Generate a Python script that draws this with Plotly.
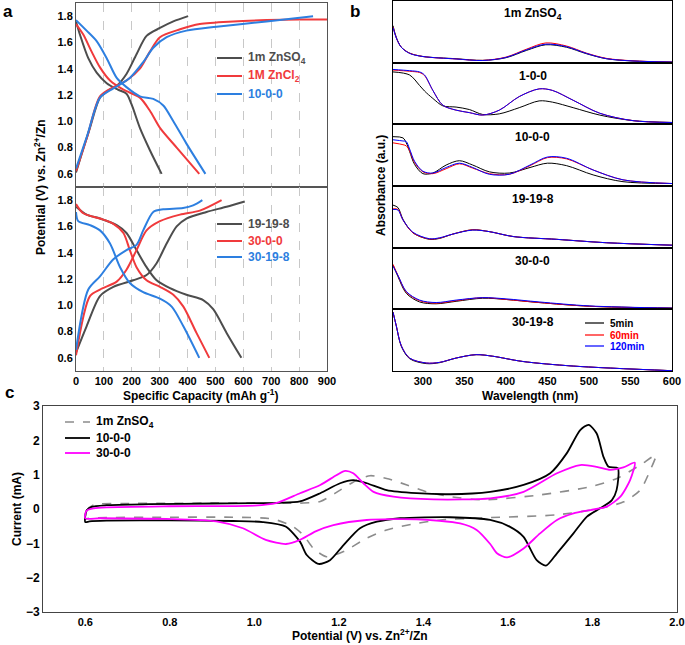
import plotly.graph_objects as go

W, H = 685, 645
FONT = "Liberation Sans, Arial, sans-serif"

# ---------------- Panel a (galvanostatic charge/discharge) ----------------
a1_names = ["1m ZnSO<sub>4</sub>", "1M ZnCl<sub>2</sub>", "10-0-0"]
a2_names = ["19-19-8", "30-0-0", "30-19-8"]
a_colors = ["#4d4d4d", "#f03a3c", "#2d7fe0"]

zso4_chg_x = [0, 20, 50, 86, 120, 146, 181, 217, 253, 301, 349, 402]
zso4_chg_y = [0.61, 0.75, 0.95, 1.18, 1.24, 1.27, 1.36, 1.51, 1.65, 1.71, 1.76, 1.80]
zso4_dis_x = [0, 14, 44, 74, 110, 151, 181, 199, 229, 265, 307]
zso4_dis_y = [1.76, 1.66, 1.48, 1.37, 1.29, 1.24, 1.21, 1.13, 0.95, 0.78, 0.60]

zncl2_chg_x = [0, 40, 86, 134, 181, 229, 265, 301, 373, 444, 564, 683, 800, 900]
zncl2_chg_y = [0.62, 0.88, 1.19, 1.26, 1.31, 1.40, 1.53, 1.64, 1.70, 1.74, 1.76, 1.77, 1.775, 1.775]
zncl2_dis_x = [0, 26, 56, 86, 122, 170, 229, 265, 301, 361, 442]
zncl2_dis_y = [1.74, 1.66, 1.53, 1.41, 1.31, 1.24, 1.18, 1.08, 0.95, 0.80, 0.60]

e1000_chg_x = [0, 40, 86, 134, 193, 241, 277, 325, 396, 504, 683, 850]
e1000_chg_y = [0.64, 0.89, 1.18, 1.25, 1.33, 1.45, 1.56, 1.64, 1.69, 1.72, 1.76, 1.80]
e1000_dis_x = [0, 38, 74, 110, 146, 181, 229, 277, 313, 349, 396, 464]
e1000_dis_y = [1.77, 1.69, 1.61, 1.48, 1.33, 1.26, 1.19, 1.17, 1.12, 1.00, 0.83, 0.60]

e19198_chg_x = [0, 38, 86, 134, 205, 253, 289, 325, 361, 396, 468, 540, 605]
e19198_chg_y = [0.64, 0.84, 1.07, 1.14, 1.19, 1.23, 1.32, 1.47, 1.60, 1.66, 1.71, 1.75, 1.79]
e19198_dis_x = [0, 38, 86, 146, 181, 217, 253, 289, 337, 396, 456, 492, 540, 593]
e19198_dis_y = [1.75, 1.69, 1.66, 1.61, 1.55, 1.42, 1.29, 1.19, 1.13, 1.08, 1.04, 0.97, 0.79, 0.60]

e3000_chg_x = [0, 50, 86, 146, 181, 217, 253, 301, 373, 444, 522]
e3000_chg_y = [0.62, 1.07, 1.12, 1.18, 1.27, 1.42, 1.57, 1.64, 1.69, 1.72, 1.80]
e3000_dis_x = [0, 26, 86, 134, 170, 193, 217, 253, 301, 349, 385, 432, 478]
e3000_dis_y = [1.77, 1.70, 1.66, 1.62, 1.55, 1.42, 1.29, 1.19, 1.14, 1.08, 0.99, 0.79, 0.60]

e30198_chg_x = [0, 44, 86, 134, 181, 217, 241, 277, 313, 384, 420, 453]
e30198_chg_y = [0.66, 1.12, 1.22, 1.35, 1.42, 1.46, 1.57, 1.71, 1.73, 1.74, 1.76, 1.80]
e30198_dis_x = [0, 8, 50, 86, 122, 158, 193, 241, 301, 343, 385, 442]
e30198_dis_y = [1.71, 1.64, 1.61, 1.57, 1.47, 1.29, 1.17, 1.10, 1.05, 0.99, 0.84, 0.60]

# ---------------- Panel b (UV-vis absorbance) ----------------
b_titles = ["1m ZnSO<sub>4</sub>", "1-0-0", "10-0-0", "19-19-8", "30-0-0", "30-19-8"]
b_times = ["5min", "60min", "120min"]
b_colors = ["#000000", "#ff0000", "#0000ff"]

b1_wl = [264, 268, 274, 284, 300, 340, 372, 400, 425, 448, 473, 497, 521, 553, 600]
b1_5 = [0.60, 0.41, 0.25, 0.155, 0.10, 0.064, 0.037, 0.08, 0.20, 0.29, 0.25, 0.145, 0.064, 0.027, 0.01]
b1_60 = [0.58, 0.40, 0.25, 0.155, 0.10, 0.06, 0.037, 0.09, 0.22, 0.32, 0.27, 0.155, 0.07, 0.03, 0.01]
b1_120 = [0.57, 0.40, 0.25, 0.15, 0.10, 0.06, 0.035, 0.085, 0.21, 0.30, 0.26, 0.15, 0.065, 0.028, 0.01]

b2_wl = [264, 284, 296, 302, 312, 324, 340, 356, 372, 392, 416, 440, 456, 481, 513, 553, 600]
b2_5 = [0.85, 0.80, 0.63, 0.54, 0.42, 0.30, 0.28, 0.24, 0.16, 0.17, 0.27, 0.38, 0.36, 0.27, 0.15, 0.06, 0.03]
b2_60 = [0.88, 0.86, 0.84, 0.79, 0.55, 0.31, 0.23, 0.19, 0.15, 0.23, 0.45, 0.575, 0.55, 0.39, 0.18, 0.06, 0.03]
b2_120 = [0.89, 0.87, 0.85, 0.80, 0.55, 0.31, 0.23, 0.19, 0.15, 0.23, 0.45, 0.575, 0.55, 0.39, 0.18, 0.06, 0.03]

b3_wl = [264, 276, 280, 284, 290, 300, 312, 328, 344, 360, 380, 404, 429, 450, 473, 505, 541, 600]
b3_5 = [0.80, 0.78, 0.70, 0.56, 0.35, 0.20, 0.21, 0.34, 0.41, 0.34, 0.23, 0.21, 0.30, 0.37, 0.33, 0.18, 0.07, 0.04]
b3_60 = [0.70, 0.67, 0.65, 0.57, 0.38, 0.23, 0.20, 0.28, 0.36, 0.29, 0.20, 0.19, 0.33, 0.46, 0.44, 0.26, 0.10, 0.04]
b3_120 = [0.75, 0.73, 0.72, 0.60, 0.40, 0.24, 0.21, 0.30, 0.37, 0.30, 0.19, 0.19, 0.34, 0.47, 0.45, 0.26, 0.10, 0.04]

b4_wl = [264, 270, 276, 288, 308, 320, 336, 360, 380, 409, 461, 521, 600]
b4_5 = [0.69, 0.65, 0.46, 0.24, 0.135, 0.15, 0.22, 0.29, 0.26, 0.18, 0.135, 0.08, 0.04]
b4_60 = [0.63, 0.62, 0.45, 0.24, 0.14, 0.155, 0.22, 0.29, 0.26, 0.18, 0.135, 0.08, 0.04]
b4_120 = [0.62, 0.61, 0.45, 0.25, 0.145, 0.16, 0.22, 0.285, 0.26, 0.18, 0.135, 0.08, 0.04]

b5_wl = [264, 270, 280, 296, 316, 340, 372, 400, 440, 501, 600]
b5_5 = [0.72, 0.53, 0.26, 0.12, 0.09, 0.13, 0.18, 0.16, 0.11, 0.05, 0.02]
b5_60 = [0.73, 0.55, 0.28, 0.14, 0.10, 0.14, 0.19, 0.16, 0.11, 0.05, 0.02]
b5_120 = [0.70, 0.55, 0.29, 0.15, 0.11, 0.15, 0.19, 0.17, 0.12, 0.055, 0.02]

b6_wl = [264, 268, 274, 284, 304, 320, 340, 364, 384, 420, 481, 600]
b6_5 = [0.955, 0.73, 0.40, 0.20, 0.12, 0.135, 0.21, 0.265, 0.24, 0.155, 0.08, 0.005]
b6_60 = [0.955, 0.73, 0.41, 0.21, 0.13, 0.14, 0.21, 0.265, 0.24, 0.155, 0.08, 0.005]
b6_120 = [0.955, 0.73, 0.41, 0.21, 0.13, 0.14, 0.21, 0.265, 0.24, 0.155, 0.08, 0.005]

# ---------------- Panel c (cyclic voltammetry) ----------------
c_names = ["1m ZnSO<sub>4</sub>", "10-0-0", "30-0-0"]
c_colors = ["#8c8c8c", "#000000", "#ff00ff"]

cv_zso4_v = [0.600, 0.603, 0.62, 0.70, 0.90, 1.00, 1.108, 1.156, 1.203, 1.242, 1.274, 1.313, 1.361,
             1.408, 1.463, 1.542, 1.676, 1.795, 1.858, 1.913, 1.950, 1.937, 1.913, 1.874, 1.818,
             1.716, 1.558, 1.440, 1.384, 1.313, 1.266, 1.211, 1.171, 1.140, 1.116, 1.09, 1.043,
             0.949, 0.80, 0.65, 0.604, 0.600]
cv_zso4_i = [-0.30, -0.05, 0.12, 0.16, 0.17, 0.17, 0.17, 0.22, 0.55, 0.84, 0.97, 0.89, 0.70,
             0.50, 0.36, 0.27, 0.41, 0.65, 0.89, 1.28, 1.57, 1.14, 0.55, 0.21, 0.02,
             -0.17, -0.25, -0.32, -0.42, -0.61, -0.85, -1.24, -1.39, -1.15, -0.76, -0.50, -0.29,
             -0.24, -0.24, -0.25, -0.28, -0.30]

cv_1000_v = [0.600, 0.603, 0.615, 0.65, 0.75, 0.90, 1.00, 1.06, 1.108, 1.156, 1.203, 1.234, 1.266,
             1.313, 1.384, 1.463, 1.558, 1.637, 1.70, 1.739, 1.771, 1.791, 1.810, 1.826, 1.838,
             1.860, 1.857, 1.846, 1.818, 1.787, 1.755, 1.716, 1.690, 1.668, 1.637, 1.605, 1.558,
             1.463, 1.345, 1.290, 1.250, 1.211, 1.179, 1.152, 1.124, 1.108, 1.074, 1.02, 0.95,
             0.80, 0.65, 0.61, 0.600]
cv_1000_i = [-0.38, -0.05, 0.06, 0.11, 0.14, 0.16, 0.17, 0.18, 0.22, 0.46, 0.75, 0.84, 0.75,
             0.55, 0.46, 0.43, 0.50, 0.70, 1.04, 1.62, 2.30, 2.45, 2.20, 1.52, 1.23,
             1.19, 0.55, 0.26, 0.02, -0.22, -0.71, -1.29, -1.65, -1.49, -0.81, -0.52, -0.32,
             -0.24, -0.27, -0.37, -0.56, -1.05, -1.49, -1.60, -1.34, -0.95, -0.51, -0.38, -0.35,
             -0.33, -0.34, -0.36, -0.38]

cv_3000_v = [0.600, 0.603, 0.62, 0.65, 0.80, 1.00, 1.051, 1.108, 1.156, 1.195, 1.215, 1.234, 1.258,
             1.282, 1.329, 1.424, 1.558, 1.637, 1.716, 1.771, 1.810, 1.842, 1.873, 1.900, 1.889,
             1.866, 1.834, 1.795, 1.755, 1.716, 1.676, 1.637, 1.598, 1.574, 1.558, 1.526, 1.487,
             1.384, 1.266, 1.187, 1.145, 1.108, 1.075, 1.027, 0.973, 0.91, 0.792, 0.635, 0.600]
cv_3000_i = [-0.27, -0.05, 0.02, 0.05, 0.08, 0.10, 0.17, 0.46, 0.70, 0.99, 1.11, 1.04, 0.75,
             0.50, 0.36, 0.28, 0.31, 0.50, 1.04, 1.28, 1.23, 1.14, 1.21, 1.35, 0.84,
             0.36, 0.07, -0.03, -0.13, -0.32, -0.71, -1.15, -1.41, -1.29, -1.02, -0.61, -0.42,
             -0.30, -0.32, -0.47, -0.65, -0.90, -1.02, -0.90, -0.56, -0.36, -0.29, -0.27, -0.27]

# ---------------- Layout helpers ----------------
def px(x):
    return x / W

def py(y):
    return 1 - y / H

fig = go.Figure()

def add_line(x, y, color, width, ax, dash="solid", smooth=0.8):
    fig.add_trace(go.Scatter(x=x, y=y, mode="lines", xaxis="x" + ax, yaxis="y" + ax,
                             line=dict(color=color, width=width, dash=dash, shape="spline",
                                       smoothing=smooth),
                             showlegend=False, hoverinfo="skip"))

# Panel a traces
a_top = [(zso4_chg_x, zso4_chg_y, zso4_dis_x, zso4_dis_y),
         (zncl2_chg_x, zncl2_chg_y, zncl2_dis_x, zncl2_dis_y),
         (e1000_chg_x, e1000_chg_y, e1000_dis_x, e1000_dis_y)]
a_bot = [(e19198_chg_x, e19198_chg_y, e19198_dis_x, e19198_dis_y),
         (e3000_chg_x, e3000_chg_y, e3000_dis_x, e3000_dis_y),
         (e30198_chg_x, e30198_chg_y, e30198_dis_x, e30198_dis_y)]
for (cx, cy, dx, dy), col in zip(a_top, a_colors):
    add_line(cx, cy, col, 2, "")
    add_line(dx, dy, col, 2, "")
for (cx, cy, dx, dy), col in zip(a_bot, a_colors):
    add_line(cx, cy, col, 2, "2")
    add_line(dx, dy, col, 2, "2")

# Panel b traces
b_sets = [(b1_wl, [b1_5, b1_60, b1_120]), (b2_wl, [b2_5, b2_60, b2_120]),
          (b3_wl, [b3_5, b3_60, b3_120]), (b4_wl, [b4_5, b4_60, b4_120]),
          (b5_wl, [b5_5, b5_60, b5_120]), (b6_wl, [b6_5, b6_60, b6_120])]
for i, (wl, series) in enumerate(b_sets):
    ax = str(3 + i)
    for s, col in zip(series, b_colors):
        add_line(wl, s, col, 1, ax, smooth=0.9)

# Panel c traces
add_line(cv_zso4_v, cv_zso4_i, c_colors[0], 1.6, "9", dash="dash", smooth=0.7)
add_line(cv_1000_v, cv_1000_i, c_colors[1], 1.8, "9", smooth=0.7)
add_line(cv_3000_v, cv_3000_i, c_colors[2], 1.8, "9", smooth=0.7)

tickf = dict(family=FONT, size=11, color="#000", weight="bold")
tickf_c = dict(family=FONT, size=12, color="#000", weight="bold")

layout = dict(
    width=W, height=H, margin=dict(l=0, r=0, t=0, b=0, autoexpand=False),
    paper_bgcolor="white", plot_bgcolor="white",
    font=dict(family=FONT, color="#000"),
)

a_xdom = [px(76), px(327)]
a_common_x = dict(range=[0, 900], domain=a_xdom, showgrid=True, gridcolor="#c8c8c8",
                  griddash="dash", gridwidth=1, tickvals=[0, 100, 200, 300, 400, 500, 600, 700, 800, 900],
                  showline=True, linecolor="#555", linewidth=1, mirror=True, zeroline=False,
                  ticks="", tickfont=tickf, automargin=False)
a_common_y = dict(range=[0.5, 1.9], tickvals=[0.6, 0.8, 1.0, 1.2, 1.4, 1.6, 1.8], tickformat=".1f",
                  showgrid=False, showline=True, linecolor="#555", linewidth=1, mirror=True,
                  zeroline=False, ticks="", tickfont=tickf, automargin=False)
layout["xaxis"] = dict(a_common_x, anchor="y", showticklabels=False)
layout["yaxis"] = dict(a_common_y, anchor="x", domain=[py(187), py(3)])
layout["xaxis2"] = dict(a_common_x, anchor="y2", showticklabels=True)
layout["yaxis2"] = dict(a_common_y, anchor="x2", domain=[py(371), py(187)])

b_xdom = [px(393), px(672)]
b_top, b_bot = 1.0, 371.0
b_h = (b_bot - b_top) / 6
for i in range(6):
    ax = str(3 + i)
    t = b_top + i * b_h
    layout["xaxis" + ax] = dict(range=[264, 600], domain=b_xdom, anchor="y" + ax,
                                showgrid=False, showline=True, linecolor="#000", linewidth=1,
                                mirror=True, zeroline=False, ticks="",
                                tickvals=[300, 350, 400, 450, 500, 550, 600],
                                showticklabels=(i == 5), tickfont=tickf, automargin=False)
    layout["yaxis" + ax] = dict(range=[0, 1], domain=[py(t + b_h), py(t)], anchor="x" + ax,
                                showgrid=False, showline=True, linecolor="#000", linewidth=1,
                                mirror=True, zeroline=False, ticks="", showticklabels=False,
                                automargin=False)

layout["xaxis9"] = dict(range=[0.5, 2.0], domain=[px(43), px(677)], anchor="y9",
                        tickvals=[0.6, 0.8, 1.0, 1.2, 1.4, 1.6, 1.8, 2.0], tickformat=".1f",
                        showgrid=False, showline=True, linecolor="#444", linewidth=1, mirror=True,
                        zeroline=False, ticks="", tickfont=tickf, automargin=False)
layout["yaxis9"] = dict(range=[-3, 3], domain=[py(612), py(406)], anchor="x9",
                        tickvals=[-3, -2, -1, 0, 1, 2, 3],
                        showgrid=False, showline=True, linecolor="#444", linewidth=1, mirror=True,
                        zeroline=False, ticks="", tickfont=tickf_c, automargin=False)

fig.update_layout(**layout)

annotations = []
shapes = []

def text(x, y, s, size=12, color="#000", xanchor="center", angle=0, xref="paper", yref="paper"):
    annotations.append(dict(x=x, y=y, xref=xref, yref=yref, text=s, showarrow=False,
                            xanchor=xanchor, yanchor="middle", textangle=angle,
                            font=dict(family=FONT, size=size, color=color, weight="bold")))

def legend_entry(x0, x1, xt, y, name, color, size, width, dash="solid", tcolor=None):
    shapes.append(dict(type="line", xref="paper", yref="paper", x0=px(x0), x1=px(x1),
                       y0=py(y), y1=py(y), line=dict(color=color, width=width, dash=dash)))
    text(px(xt), py(y), name, size=size, color=tcolor or color, xanchor="left")

# Panel letters
text(px(8), py(12), "a", size=17)
text(px(355), py(12), "b", size=17)
text(px(9), py(393), "c", size=17)

# Panel a legends
for name, col, yy in zip(a1_names, a_colors, [58, 76, 94]):
    legend_entry(217, 242, 246, yy, name, col, 12, 2)
for name, col, yy in zip(a2_names, a_colors, [224, 241, 257]):
    legend_entry(217, 242, 246, yy, name, col, 12, 2)

# Panel a axis titles
text(px(40), py(187), "Potential (V) vs. Zn<sup>2+</sup>/Zn", size=12, angle=-90)
text(px(201), py(395), "Specific Capacity (mAh g<sup>-1</sup>)", size=12)

# Panel b titles and legend
for i, t in enumerate(b_titles):
    ax = str(3 + i)
    text(0.5, 0.79, t, size=12, xref="x" + ax + " domain", yref="y" + ax + " domain")
for name, col, yy in zip(b_times, b_colors, [323, 335, 346]):
    legend_entry(585, 604, 608, yy, name, col, 10, 1.2)
text(px(381), py(186), "Absorbance (a.u.)", size=12, angle=-90)
text(px(530), py(396), "Wavelength (nm)", size=12)

# Panel c legend and titles
for name, col, yy, dash, wd in zip(c_names, c_colors, [422, 438, 453],
                                   ["dash", "solid", "solid"], [1.6, 1.8, 1.8]):
    legend_entry(65, 90, 94, yy, name, col, 12, wd, dash=dash, tcolor="#000")
text(px(17), py(509), "Current (mA)", size=12, angle=-90)
text(px(360), py(635), "Potential (V) vs. Zn<sup>2+</sup>/Zn", size=12)

fig.update_layout(annotations=annotations, shapes=shapes)
fig.write_html("out.html", config={"displayModeBar": False},
               post_script="document.body.style.margin='0';document.body.style.overflow='hidden';")
